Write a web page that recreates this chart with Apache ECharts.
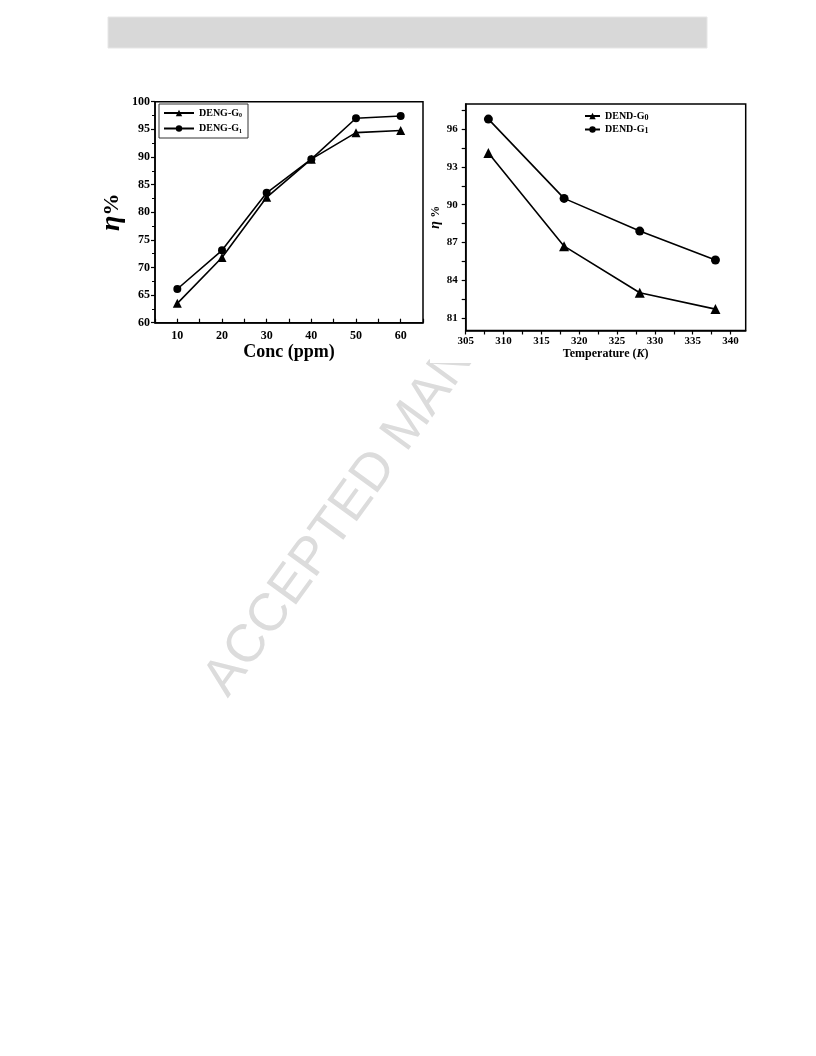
<!DOCTYPE html>
<html>
<head>
<meta charset="utf-8">
<style>
html,body{margin:0;padding:0;background:#fff;}
#c{width:816px;height:1056px;}
</style>
<script src="https://cdn.jsdelivr.net/npm/echarts@6/dist/echarts.min.js"></script>
</head>
<body>
<div id="c"></div>
<script>
// ---- Left panel data (concentration) ----
const concX = [10, 20, 30, 40, 50, 60];
const dengG0 = [63.5, 71.8, 82.7, 89.6, 94.4, 94.8];
const dengG1 = [66.1, 73.1, 83.5, 89.6, 97.0, 97.4];
const concTickLabels = [10, 20, 30, 40, 50, 60];

// ---- Right panel data (temperature) ----
const tempX = [308, 318, 328, 338];
const dendG0 = [94.1, 86.7, 83.0, 81.7];
const dendG1 = [96.8, 90.5, 87.9, 85.6];
const tempTickLabels = [305, 310, 315, 320, 325, 330, 335, 340];
const etaTickLabels = [81, 84, 87, 90, 93, 96];

const serif = '"Liberation Serif","DejaVu Serif",serif';
const pair = (xs, ys) => xs.map((x, i) => [x, ys[i]]);
const range = (a, b, s) => { const r = []; for (let v = a; v <= b + 1e-9; v += s) r.push(+v.toFixed(2)); return r; };

const chart = echarts.init(document.getElementById('c'), null, {renderer: 'canvas'});

const lineSeries = (name, data, sym, size, xi) => ({
  name: name, type: 'line', data: data, xAxisIndex: xi, yAxisIndex: xi,
  symbol: sym, symbolSize: size, showSymbol: true,
  lineStyle: {color: '#000', width: 1.6},
  itemStyle: {color: '#000'},
  animation: false, z: 5
});

const legendFmt = (name) => {
  const base = name.slice(0, -1), sub = name.slice(-1);
  return '{b|' + base + '}{s|' + sub + '}';
};

chart.setOption({
  animation: false,
  graphic: [
    {type: 'rect', shape: {x: 108, y: 17, width: 599, height: 31},
     style: {fill: '#d8d8d8', stroke: '#e6e6e6', lineWidth: 1}, z: -20},
    {type: 'text', x: 216, y: 690, rotation: 54 * Math.PI / 180,
     style: {text: 'ACCEPTED MANUSCRIPT', fill: '#dcdcdc',
       font: '53px "Liberation Sans", Arial, sans-serif',
       textAlign: 'left', textVerticalAlign: 'middle'}, z: -15},
    {type: 'rect', shape: {x: 430, y: 85, width: 322, height: 278},
     style: {fill: '#ffffff'}, z: -10}
  ],
  grid: [
    {left: 155, top: 101.7, width: 268, height: 221, show: true,
     borderColor: '#000', borderWidth: 1.5, backgroundColor: 'transparent'},
    {left: 465.7, top: 104, width: 280, height: 226.5, show: true,
     borderColor: '#000', borderWidth: 1.5, backgroundColor: 'transparent'}
  ],
  legend: [
    {data: ['DENG-G0', 'DENG-G1'], orient: 'vertical', left: 159, top: 104,
     borderColor: '#333', borderWidth: 1, padding: [4, 6, 4, 4], itemGap: 5,
     itemWidth: 30, itemHeight: 8, formatter: legendFmt,
     textStyle: {rich: {
       b: {fontFamily: serif, fontWeight: 'bold', fontSize: 10, color: '#000'},
       s: {fontFamily: serif, fontWeight: 'bold', fontSize: 6, color: '#000', padding: [5, 0, 0, 0]}
     }}},
    {data: ['DEND-G0', 'DEND-G1'], orient: 'vertical', left: 584, top: 111,
     padding: 0, itemGap: 3, itemWidth: 15, itemHeight: 8, formatter: legendFmt,
     textStyle: {rich: {
       b: {fontFamily: serif, fontWeight: 'bold', fontSize: 10, color: '#000'},
       s: {fontFamily: serif, fontWeight: 'bold', fontSize: 8, color: '#000', padding: [3, 0, 0, 0]}
     }}}
  ],
  xAxis: [
    {type: 'value', gridIndex: 0, min: 5, max: 65, interval: 5,
     name: 'Conc (ppm)', nameLocation: 'middle', nameGap: 21,
     nameTextStyle: {fontFamily: serif, fontWeight: 'bold', fontSize: 18, color: '#000'},
     axisLine: {show: true, lineStyle: {color: '#000', width: 1.5}},
     axisTick: {show: true, inside: true, length: 4, lineStyle: {color: '#000', width: 1.2}},
     axisLabel: {customValues: concTickLabels, margin: 7, fontFamily: serif, fontWeight: 'bold', fontSize: 12, color: '#000'},
     splitLine: {show: false}},
    {type: 'value', gridIndex: 1, min: 305, max: 342,
     name: '{n|Temperature (}{k|K}{n|)}', nameLocation: 'middle', nameGap: 17,
     nameTextStyle: {rich: {
       n: {fontFamily: serif, fontWeight: 'bold', fontSize: 12, color: '#000'},
       k: {fontFamily: serif, fontWeight: 'bold', fontStyle: 'italic', fontSize: 12, color: '#000'}
     }},
     axisLine: {show: true, lineStyle: {color: '#000', width: 1.5}},
     axisTick: {show: true, customValues: range(305, 340, 2.5), length: 4, lineStyle: {color: '#000', width: 1.2}},
     axisLabel: {customValues: tempTickLabels, margin: 5, fontFamily: serif, fontWeight: 'bold', fontSize: 11, color: '#000'},
     splitLine: {show: false}}
  ],
  yAxis: [
    {type: 'value', gridIndex: 0, min: 60, max: 100, interval: 5,
     name: '{e|η}{p|%}', nameLocation: 'middle', nameGap: 29, nameRotate: 90,
     nameTextStyle: {rich: {
       e: {fontFamily: serif, fontStyle: 'italic', fontWeight: 'bold', fontSize: 28, color: '#000'},
       p: {fontFamily: serif, fontWeight: 'bold', fontSize: 22, color: '#000'}
     }},
     axisLine: {show: true, lineStyle: {color: '#000', width: 1.5}},
     axisTick: {show: true, length: 4, lineStyle: {color: '#000', width: 1.2}},
     minorTick: {show: true, splitNumber: 2, length: 3, lineStyle: {color: '#000', width: 1}},
     axisLabel: {margin: 5, fontFamily: serif, fontWeight: 'bold', fontSize: 12, color: '#000'},
     splitLine: {show: false}},
    {type: 'value', gridIndex: 1, min: 80, max: 98,
     name: '{e|η} {p|%}', nameLocation: 'middle', nameGap: 22, nameRotate: 90,
     nameTextStyle: {rich: {
       e: {fontFamily: serif, fontStyle: 'italic', fontWeight: 'bold', fontSize: 14, color: '#000'},
       p: {fontFamily: serif, fontWeight: 'bold', fontSize: 12, color: '#000'}
     }},
     axisLine: {show: true, lineStyle: {color: '#000', width: 1.5}},
     axisTick: {show: true, customValues: range(81, 97.5, 1.5), length: 4, lineStyle: {color: '#000', width: 1.2}},
     axisLabel: {customValues: etaTickLabels, margin: 8, fontFamily: serif, fontWeight: 'bold', fontSize: 11, color: '#000'},
     splitLine: {show: false}}
  ],
  series: [
    lineSeries('DENG-G0', pair(concX, dengG0), 'triangle', 9, 0),
    lineSeries('DENG-G1', pair(concX, dengG1), 'circle', 8, 0),
    lineSeries('DEND-G0', pair(tempX, dendG0), 'triangle', 10, 1),
    lineSeries('DEND-G1', pair(tempX, dendG1), 'circle', 9, 1)
  ]
});
</script>
</body>
</html>
